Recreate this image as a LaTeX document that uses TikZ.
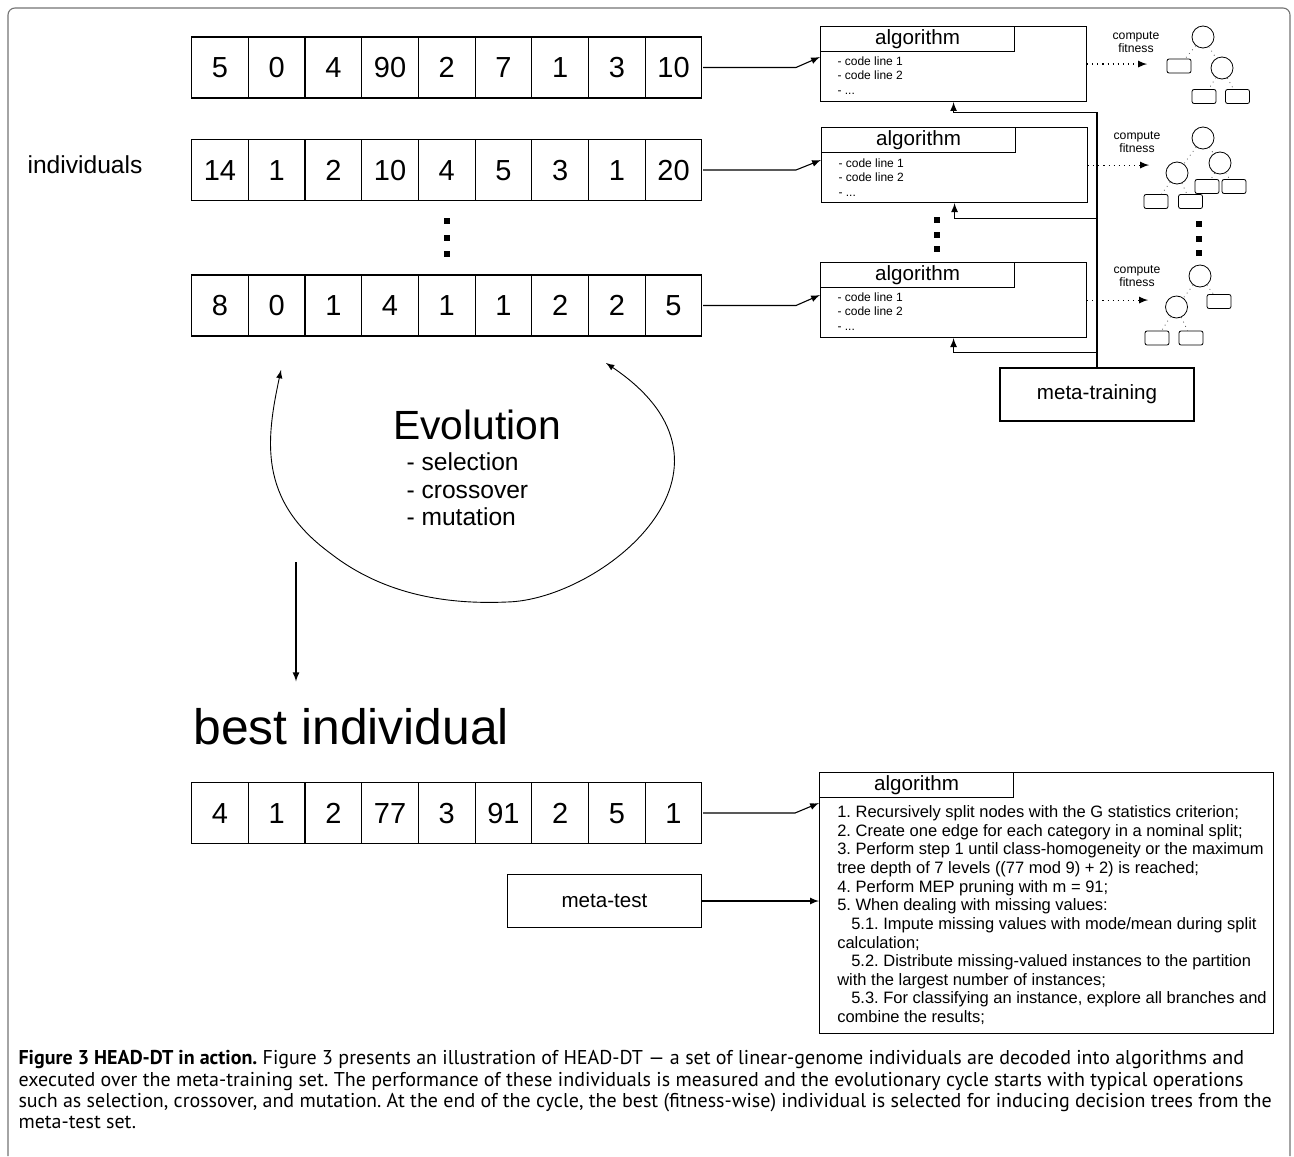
\documentclass[tikz,border=0pt]{standalone}
\usepackage{fontspec}
\setmainfont{Liberation Sans}
\newfontfamily\capfont{PT Sans}
\usetikzlibrary{matrix,positioning,arrows}
\tikzset{
genrow/.style={
  matrix of nodes,
  anchor=west,
  inner sep=0pt,
  column sep=-\pgflinewidth,
  nodes={draw, anchor=center, minimum width=28.35pt, minimum height=30.5pt, inner sep=0pt,
    text height=10.4pt, text depth=0pt, font=\fontsize{14.5}{16}\selectfont}
  },
algbox/.style={draw, anchor=north west, minimum width=133pt, minimum height=37.5pt, inner sep=0pt},
algtitle/.style={draw, anchor=north west, minimum width=97pt, minimum height=12.5pt,
  inner sep=0pt, font=\fontsize{10.3}{12}\selectfont},
codelines/.style={anchor=north west, align=left, inner sep=0pt, font=\fontsize{6}{7.25}\selectfont},
fitlabel/.style={align=center, inner sep=0pt, font=\fontsize{6.1}{6.5}\selectfont},
tcirc/.style={draw, circle, minimum size=11pt, inner sep=0pt, line width=0.4pt},
tleaf/.style={draw, rounded corners=1pt, minimum width=12pt, minimum height=7pt, inner sep=0pt, line width=0.4pt},
tedge/.style={dotted, line width=0.4pt, black!70},
setbox/.style={draw, minimum width=97pt, minimum height=26.5pt, inner sep=0pt, font=\fontsize{10.3}{12}\selectfont},
dotsq/.style={fill, minimum size=3pt, inner sep=0pt}
}

\begin{document}
\frenchspacing
\begin{tikzpicture}[x=0.5pt, y=-0.5pt, >=latex, line width=0.55pt]
\useasboundingbox (0,0) rectangle (1294,1156);

% frame
\draw[black!55, rounded corners=3.5pt] (8,1156) -- (8,8) -- (1290,8) -- (1290,1156);

% population
\node[font=\fontsize{12.3}{14}\selectfont] at (85,165) (indlabel) {individuals};
\matrix[genrow] at (190.5,67.5) (gen1) {5 & 0 & 4 & 90 & 2 & 7 & 1 & 3 & 10\\};
\matrix[genrow] at (190.5,170) (gen2) {14 & 1 & 2 & 10 & 4 & 5 & 3 & 1 & 20\\};
\matrix[genrow] at (190.5,305.5) (gen3) {8 & 0 & 1 & 4 & 1 & 1 & 2 & 2 & 5\\};
\node[dotsq] at (447,221) (gdot1) {};
\node[dotsq] at (447,237.5) (gdot2) {};
\node[dotsq] at (447,254) (gdot3) {};

% decoded algorithms
\node[algbox] at (820,26) (alg1) {};
\node[algtitle] at (alg1.north west) (alg1t) {algorithm};
\node[codelines] at ([xshift=8.5pt,yshift=-15pt]alg1.north west) (alg1c)
  {- code line 1\\- code line 2\\- ...};
\node[algbox] at (821,127) (alg2) {};
\node[algtitle] at (alg2.north west) (alg2t) {algorithm};
\node[codelines] at ([xshift=8.5pt,yshift=-15.5pt]alg2.north west) (alg2c)
  {- code line 1\\- code line 2\\- ...};
\node[algbox] at (820,262) (alg3) {};
\node[algtitle] at (alg3.north west) (alg3t) {algorithm};
\node[codelines] at ([xshift=8.5pt,yshift=-15pt]alg3.north west) (alg3c)
  {- code line 1\\- code line 2\\- ...};
\node[dotsq] at (937,220) (adot1) {};
\node[dotsq] at (937,234.5) (adot2) {};
\node[dotsq] at (937,249) (adot3) {};

\draw[->] (gen1.east) -- ++(93,0) -- ([yshift=-15.5pt]alg1.north west);
\draw[->] (gen2.east) -- ++(93,0) -- ([yshift=-16.5pt]alg2.north west);
\draw[->] (gen3.east) -- ++(93,0) -- ([yshift=-16.5pt]alg3.north west);

% fitness
\draw[->, dotted] (alg1.east) -- ++(60,0);
\draw[->, dotted] (alg2.east) -- ++(61,0);
\draw[->, dotted] (alg3.east) -- ++(61,0);
\node[fitlabel] at (1136,42.5) (fit1) {compute\\fitness};
\node[fitlabel] at (1137,142.5) (fit2) {compute\\fitness};
\node[fitlabel] at (1137,276.5) (fit3) {compute\\fitness};

% trees
\node[tcirc] at (1203,37) (c1a) {};
\node[tleaf] at (1179,66) (r1a) {};
\node[tcirc] at (1222,68) (c1b) {};
\node[tleaf] at (1204,96.5) (r1b) {};
\node[tleaf] at (1237.5,96.5) (r1c) {};
\draw[tedge] (c1a) -- (r1a);
\draw[tedge] (c1a) -- (c1b);
\draw[tedge] (c1b) -- (r1b);
\draw[tedge] (c1b) -- (r1c);

\node[tcirc] at (1203,138) (c2a) {};
\node[tcirc] at (1220,163) (c2b) {};
\node[tcirc] at (1177,173) (c2c) {};
\node[tleaf] at (1207,186.5) (r2a) {};
\node[tleaf] at (1234,186.5) (r2b) {};
\node[tleaf] at (1156,201.5) (r2c) {};
\node[tleaf] at (1190.5,201.5) (r2d) {};
\draw[tedge] (c2a) -- (c2b);
\draw[tedge] (c2a) -- (c2c);
\draw[tedge] (c2b) -- (r2a);
\draw[tedge] (c2b) -- (r2b);
\draw[tedge] (c2c) -- (r2c);
\draw[tedge] (c2c) -- (r2d);

\node[dotsq] at (1199,224) (tdot1) {};
\node[dotsq] at (1199,238.5) (tdot2) {};
\node[dotsq] at (1199,253) (tdot3) {};

\node[tcirc] at (1200,276) (c3a) {};
\node[tleaf] at (1219,301.5) (r3a) {};
\node[tcirc] at (1176.5,307) (c3b) {};
\node[tleaf] at (1157,338) (r3b) {};
\node[tleaf] at (1191,338) (r3c) {};
\draw[tedge] (c3a) -- (r3a);
\draw[tedge] (c3a) -- (c3b);
\draw[tedge] (c3b) -- (r3b);
\draw[tedge] (c3b) -- (r3c);

% meta-training feedback
\node[setbox] at (1097,394.5) (mtrain) {meta-training};
\draw[->] (mtrain.north) -- ++(0,-255) -| (alg1.south);
\draw[->] (mtrain.north) -- ++(0,-149) -| (alg2.south);
\draw[->] (mtrain.north) -- ++(0,-15) -| (alg3.south);

% evolution cycle
\coordinate (evoL) at (281,370);
\coordinate (evoR) at (606,363);
\draw[<->, line width=0.45pt] (evoL) .. controls (266,440) and (258,500) .. (330,553)
  .. controls (390,600) and (460,604) .. (507,602)
  .. controls (600,600) and (765,470) .. (evoR);
\node[font=\fontsize{20.4}{24}\selectfont] at (477,425) (evo) {Evolution};
\node[anchor=west, align=left, inner sep=0pt, font=\fontsize{12.3}{13.75}\selectfont]
  at (406,489.5) (evolist) {- selection\\- crossover\\- mutation};

% best individual
\node[anchor=base west, inner sep=0pt, font=\fontsize{24.9}{28}\selectfont]
  at (193,744) (bestlbl) {best individual};
\coordinate (evoout) at (296,562);
\draw[->, shorten >=13pt] (evoout) -- (evoout |- bestlbl.north);
\matrix[genrow] at (190.5,813) (best) {4 & 1 & 2 & 77 & 3 & 91 & 2 & 5 & 1\\};

\node[draw, anchor=north west, minimum width=227pt, minimum height=130.5pt, inner sep=0pt]
  at (819,772) (bigalg) {};
\node[algtitle] at (bigalg.north west) (bigalgt) {algorithm};
\node[anchor=north west, align=left, inner sep=0pt, font=\fontsize{8.25}{9.32}\selectfont]
  at ([xshift=8.85pt,yshift=-16.5pt]bigalg.north west) (bigalgc)
  {1. Recursively split nodes with the G statistics criterion;\\
   2. Create one edge for each category in a nominal split;\\
   3. Perform step 1 until class-homogeneity or the maximum\\
   tree depth of 7 levels ((77 mod 9) + 2) is reached;\\
   4. Perform MEP pruning with m = 91;\\
   5. When dealing with missing values:\\
   \hspace*{7pt}5.1. Impute missing values with mode/mean during split\\
   calculation;\\
   \hspace*{7pt}5.2. Distribute missing-valued instances to the partition\\
   with the largest number of instances;\\
   \hspace*{7pt}5.3. For classifying an instance, explore all branches and\\
   combine the results;};
\draw[->] (best.east) -- ++(92,0) -- ([yshift=-15.5pt]bigalg.north west);

\node[setbox] at (604.5,901) (mtest) {meta-test};
\draw[->] (mtest.east) -- (mtest.east -| bigalg.west);

% caption
\node[anchor=north west, align=left, inner sep=0pt, font=\capfont\fontsize{10}{10.67}\selectfont]
  at (18,1050) (caption)
  {\textbf{Figure 3 HEAD-DT in action.} Figure 3 presents an illustration of HEAD-DT — a set of linear-genome individuals are decoded into algorithms and\\
   executed over the meta-training set. The performance of these individuals is measured and the evolutionary cycle starts with typical operations\\
   such as selection, crossover, and mutation. At the end of the cycle, the best (fitness-wise) individual is selected for inducing decision trees from the\\
   meta-test set.};
\end{tikzpicture}
\end{document}
